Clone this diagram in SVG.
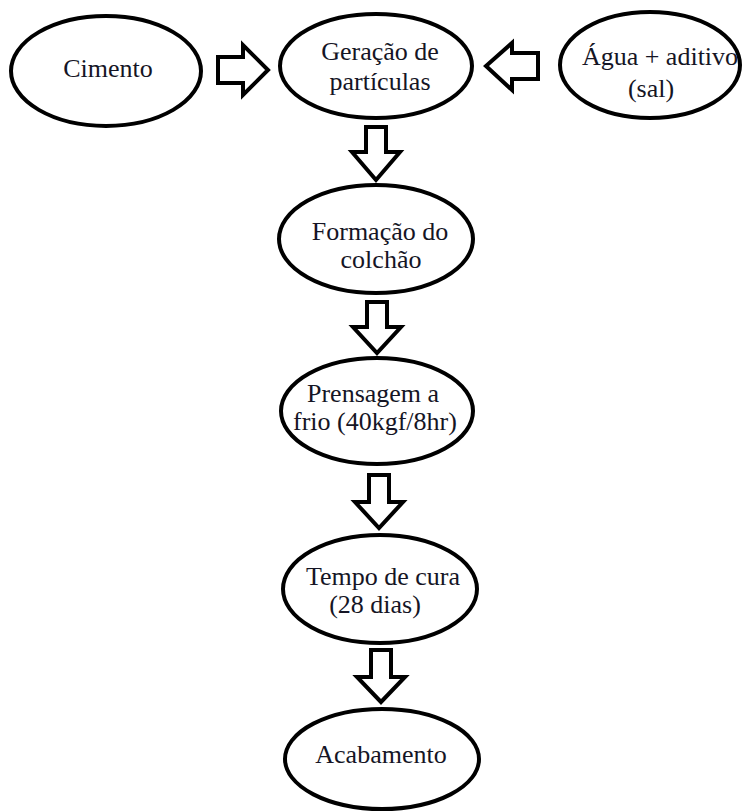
<svg xmlns="http://www.w3.org/2000/svg" width="743" height="811" viewBox="0 0 743 811">
<style>
.n{fill:#fff;stroke:#000;stroke-width:4}
.a{fill:#fff;stroke:#000;stroke-width:4;stroke-linejoin:miter}
.t{font-family:"Liberation Serif","Times New Roman",serif;font-size:26px;fill:#151525;text-anchor:middle}
.s{text-anchor:start}
</style>
<rect width="743" height="811" fill="#fff"/>
<g id="connectors">
<polygon class="a" points="218,57 243,57 243,45 268,70 243,95 243,83 218,83"/>
<polygon class="a" points="538,53 512,53 512,43 486,66 512,90 512,79 538,79"/>
<polygon class="a" points="366,127 386,127 386,152 400,152 376,180 352,152 366,152"/>
<polygon class="a" points="367,302 387,302 387,327 401,327 377,353 353,327 367,327"/>
<polygon class="a" points="369,475 389,475 389,502 403,502 379,528 355,502 369,502"/>
<polygon class="a" points="371,650 391,650 391,677 405,677 381,702 357,677 371,677"/>
</g>
<g id="cimento">
<ellipse class="n" cx="106" cy="71" rx="95" ry="55"/>
<text class="t" x="108" y="77">Cimento</text>
</g>
<g id="geracao">
<ellipse class="n" cx="376" cy="66" rx="96" ry="52"/>
<text class="t" x="380" y="60">Geração de</text>
<text class="t" x="380" y="90">partículas</text>
</g>
<g id="agua">
<ellipse class="n" cx="650" cy="65" rx="90" ry="53"/>
<text class="t" x="660" y="65">Água + aditivo</text>
<text class="t" x="651" y="97">(sal)</text>
</g>
<g id="formacao">
<ellipse class="n" cx="376" cy="239" rx="97" ry="54"/>
<text class="t" x="380" y="240">Formação do</text>
<text class="t" x="381" y="268">colchão</text>
</g>
<g id="prensagem">
<ellipse class="n" cx="377" cy="411" rx="96" ry="53"/>
<text class="t s" x="307" y="402">Prensagem a</text>
<text class="t s" x="293" y="430">frio (40kgf/8hr)</text>
</g>
<g id="tempo">
<ellipse class="n" cx="380" cy="589" rx="97" ry="54"/>
<text class="t" x="383" y="585">Tempo de cura</text>
<text class="t" x="375" y="613">(28 dias)</text>
</g>
<g id="acabamento">
<ellipse class="n" cx="382" cy="759" rx="97" ry="50"/>
<text class="t" x="381" y="763">Acabamento</text>
</g>
</svg>
